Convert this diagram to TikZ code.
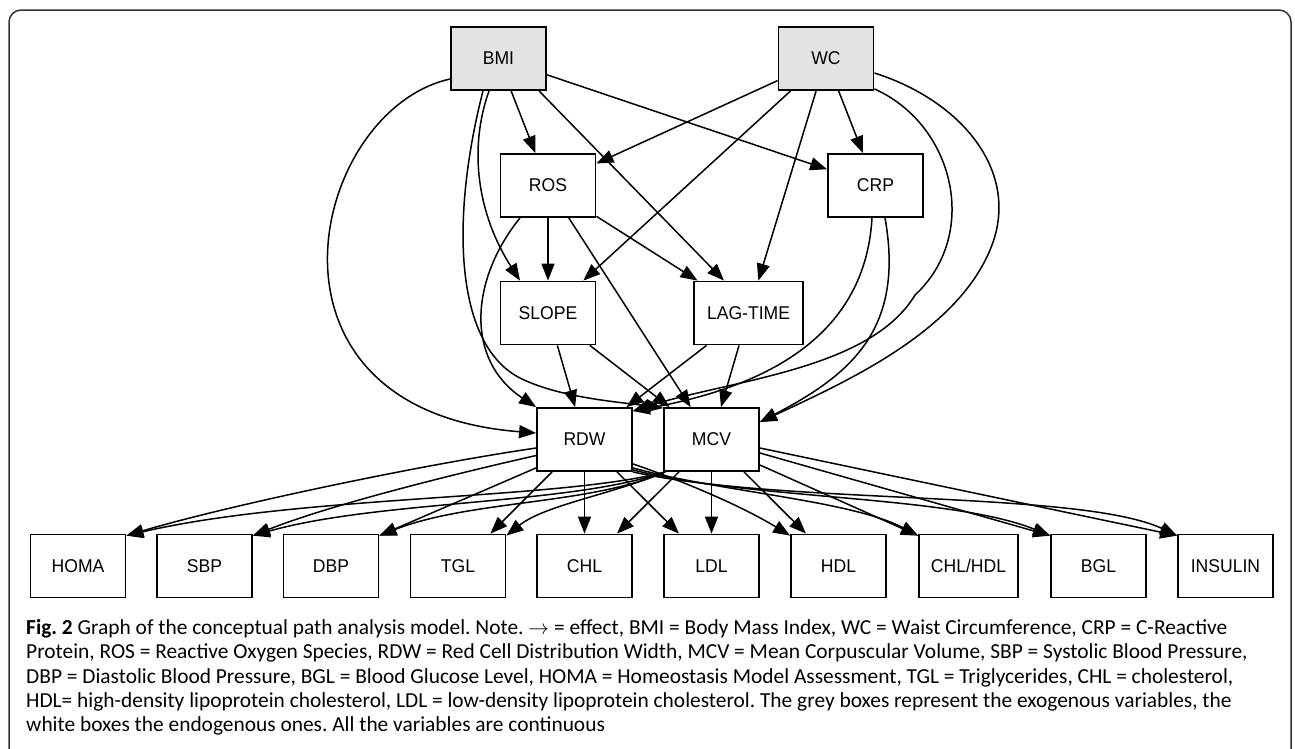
\documentclass[tikz,border=0pt]{standalone}
\usepackage{fontspec}
\usepackage{graphicx}
\setmainfont{Carlito}
\newfontfamily\boxfont{Liberation Sans}
\usetikzlibrary{arrows.meta,calc}
\definecolor{exogrey}{HTML}{E3E3E3}
\newcommand\bxl[1]{\scalebox{0.95}[1]{#1}}
\frenchspacing
\begin{document}
\begin{tikzpicture}[x=1pt,y=-1pt,
  vbox/.style={draw=black,line width=1.8pt,fill=white,minimum width=95pt,minimum height=63pt,inner sep=0pt,font=\boxfont\fontsize{18.5}{20}\selectfont},
  exo/.style={vbox,fill=exogrey},
  e/.style={line width=1.5pt,-{Triangle[length=17pt,width=13pt]}},
  captext/.style={anchor=base west,inner sep=0pt,font=\fontsize{21.4}{25}\selectfont}]
\useasboundingbox (0,0) rectangle (1295,748);
\begin{scope}
\clip (0,0) rectangle (1295,748);
\draw[line width=1.5pt,draw=black!80,rounded corners=12pt] (9,10) rectangle (1291,790);
\end{scope}
% nodes
\node[exo] (BMI) at (498.5,58.5) {\bxl{BMI}};
\node[exo] (WC) at (826,58.5) {\bxl{WC}};
\node[vbox] (ROS) at (548,185.5) {\bxl{ROS}};
\node[vbox] (CRP) at (875.5,185.5) {\bxl{CRP}};
\node[vbox] (SLOPE) at (548,313) {\bxl{SLOPE}};
\node[vbox,minimum width=109pt] (LAG) at (748.5,313) {\bxl{LAG-TIME}};
\node[vbox] (RDW) at (584.5,439.5) {\bxl{RDW}};
\node[vbox] (MCV) at (711.5,439.5) {\bxl{MCV}};
\node[vbox] (HOMA) at (78,566) {\bxl{HOMA}};
\node[vbox] (SBP) at (204.5,566) {\bxl{SBP}};
\node[vbox] (DBP) at (331,566) {\bxl{DBP}};
\node[vbox] (TGL) at (458,566) {\bxl{TGL}};
\node[vbox] (CHL) at (584.5,566) {\bxl{CHL}};
\node[vbox] (LDL) at (711.5,566) {\bxl{LDL}};
\node[vbox] (HDL) at (838.5,566) {\bxl{HDL}};
\node[vbox,minimum width=99pt] (CHLHDL) at (968.5,566) {\bxl{CHL/HDL}};
\node[vbox] (BGL) at (1098.5,566) {\bxl{BGL}};
\node[vbox] (INS) at (1225.5,566) {\bxl{INSULIN}};
% BMI edges
\draw[e] ($(BMI.west)+(0,20.5)$) .. controls (310,110) and (240,410) .. ($(RDW.west)+(0,-6.5)$);
\draw[e] ($(BMI.south)+(-15.5,0)$) .. controls (450,220) and (455,345) .. (520,378) .. controls (560,398) and (620,402) .. ($(MCV.north west)+(0,1)$);
\draw[e] ($(BMI.south)+(-9.5,0)$) .. controls (468,150) and (478,215) .. ($(SLOPE.north)+(-28,0)$);
\draw[e] (BMI) -- (ROS);
\draw[e] ($(BMI.south)+(40.5,0)$) -- ($(LAG.north)+(-24.5,0)$);
\draw[e] (BMI) -- (CRP);
% WC edges
\draw[e] (WC) -- (ROS);
\draw[e] (WC) -- (SLOPE);
\draw[e] (WC) -- (LAG);
\draw[e] (WC) -- (CRP);
\draw[e] ($(WC.south east)+(0,-2)$) .. controls (955,125) and (980,235) .. (915,295) .. controls (870,370) and (730,380) .. ($(RDW.east)+(0,-28.5)$);
\draw[e] ($(WC.east)+(0,14.5)$) .. controls (960,100) and (1020,170) .. (992,245) .. controls (960,330) and (850,380) .. ($(MCV.east)+(0,-17.5)$);
% ROS edges
\draw[e] (ROS) -- (SLOPE);
\draw[e] (ROS) -- (LAG);
\draw[e] ($(ROS.south)+(-28,0)$) .. controls (470,280) and (465,360) .. (RDW.north west);
\draw[e] (ROS) -- (MCV);
% CRP edges
\draw[e] ($(CRP.south)+(-3.5,0)$) .. controls (865,340) and (760,388) .. ($(RDW.east)+(0,-28.5)$);
\draw[e] ($(CRP.south)+(9.5,0)$) .. controls (905,330) and (850,375) .. ($(MCV.east)+(0,-17.5)$);
% SLOPE, LAG-TIME edges
\draw[e] (SLOPE) -- (RDW);
\draw[e] (SLOPE) -- (MCV);
\draw[e] (LAG) -- (RDW);
\draw[e] (LAG) -- (MCV);
% RDW to outcomes
\draw[e] ($(RDW.west)+(0,8.5)$) .. controls (420,465) and (230,505) .. ($(HOMA.north east)+(0,2)$);
\draw[e] ($(RDW.west)+(0,16)$) .. controls (450,475) and (330,505) .. ($(SBP.north east)+(0,2)$);
\draw[e] ($(RDW.south west)+(0,-4)$) -- ($(DBP.north east)+(0,2)$);
\draw[e] (RDW) -- (TGL);
\draw[e] (RDW) -- (CHL);
\draw[e] (RDW) -- (LDL);
\draw[e] ($(RDW.south east)+(0,-8)$) .. controls (680,480) and (740,505) .. ($(HDL.north west)+(0,2)$);
\draw[e] ($(RDW.south east)+(0,-4)$) .. controls (720,492) and (850,500) .. ($(CHLHDL.north west)+(0,2)$);
\draw[e] ($(RDW.south east)+(0,-2)$) .. controls (750,500) and (950,495) .. ($(BGL.north west)+(0,2)$);
\draw[e] (RDW.south east) .. controls (780,505) and (1080,490) .. ($(INS.north west)+(0,2)$);
% MCV to outcomes
\draw[e] ($(MCV.south west)+(2,0)$) .. controls (560,500) and (300,495) .. ($(HOMA.north east)+(0,2)$);
\draw[e] ($(MCV.south west)+(2,0)$) .. controls (570,505) and (380,500) .. ($(SBP.north east)+(0,2)$);
\draw[e] ($(MCV.south west)+(2,0)$) .. controls (590,505) and (470,500) .. ($(DBP.north east)+(0,2)$);
\draw[e] ($(MCV.south west)+(2,0)$) .. controls (610,495) and (545,505) .. ($(TGL.north east)+(0,2)$);
\draw[e] (MCV) -- (CHL);
\draw[e] (MCV) -- (LDL);
\draw[e] (MCV) -- (HDL);
\draw[e] ($(MCV.east)+(0,25.5)$) -- ($(CHLHDL.north west)+(0,2)$);
\draw[e] ($(MCV.east)+(0,13.5)$) -- ($(BGL.north west)+(0,2)$);
\draw[e] ($(MCV.east)+(0,8.5)$) -- ($(INS.north west)+(0,2)$);
% caption
\node[captext] (c1) at (26,634) {\textbf{Fig. 2} Graph of the conceptual path analysis model. Note. $\rightarrow$ = effect, BMI = Body Mass Index, WC = Waist Circumference, CRP = C-Reactive};
\node[captext] (c2) at (26,658.5) {Protein, ROS = Reactive Oxygen Species, RDW = Red Cell Distribution Width, MCV = Mean Corpuscular Volume, SBP = Systolic Blood Pressure,};
\node[captext] (c3) at (26,683) {DBP = Diastolic Blood Pressure, BGL = Blood Glucose Level, HOMA = Homeostasis Model Assessment, TGL = Triglycerides, CHL = cholesterol,};
\node[captext] (c4) at (26,707) {HDL= high-density lipoprotein cholesterol, LDL = low-density lipoprotein cholesterol. The grey boxes represent the exogenous variables, the};
\node[captext] (c5) at (26,731.5) {white boxes the endogenous ones. All the variables are continuous};
\end{tikzpicture}
\end{document}
